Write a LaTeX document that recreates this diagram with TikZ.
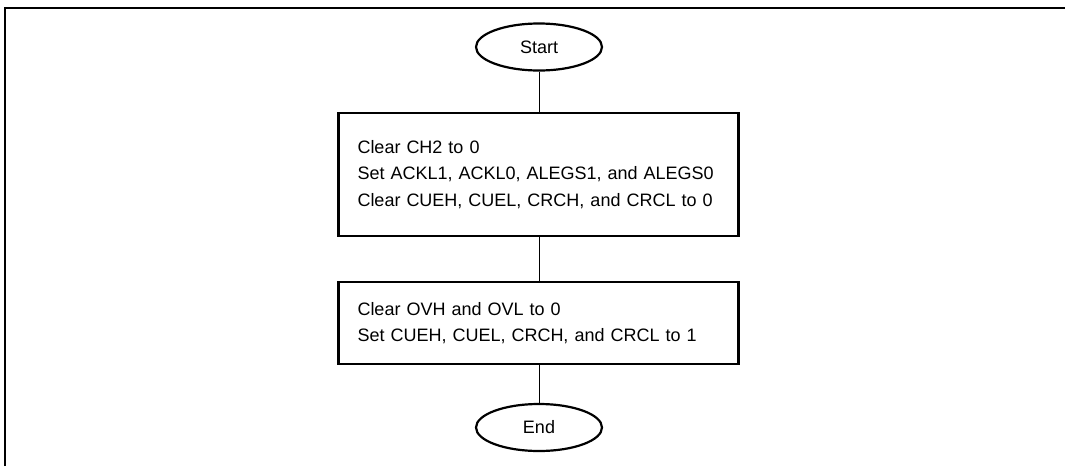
\documentclass[tikz,border=0pt]{standalone}
\usepackage{fontspec}
\setmainfont{Liberation Sans}
\usetikzlibrary{shapes.geometric}
\begin{document}
\begin{tikzpicture}[x=1pt,y=-1pt,
  every node/.style={font=\fontsize{18}{26.5}\selectfont},
  procbox/.style={draw, line width=2.4pt, align=left, text width=362pt, inner xsep=19pt, inner ysep=0pt},
  term/.style={draw, ellipse, line width=2.2pt, minimum width=126pt, minimum height=47pt, inner sep=0pt},
  link/.style={line width=1pt}]
\useasboundingbox (0,0) rectangle (1065,466);
\draw[line width=2.2pt] (5,466) -- (5,8) -- (1065,8);
\node[term] (start) at (539,47) {Start};
\node[procbox, minimum height=123pt] (b1) at (538.5,174.5) {Clear CH2 to 0\\Set ACKL1, ACKL0, ALEGS1, and ALEGS0\\Clear CUEH, CUEL, CRCH, and CRCL to 0};
\node[procbox, minimum height=82pt] (b2) at (538.5,323) {Clear OVH and OVL to 0\\Set CUEH, CUEL, CRCH, and CRCL to 1};
\node[term] (end) at (539,427.5) {End};
\draw[link] (start) -- (start |- b1.north);
\draw[link] (b1.south -| start) -- (b2.north -| start);
\draw[link] (b2.south -| start) -- (end);
\end{tikzpicture}
\end{document}
